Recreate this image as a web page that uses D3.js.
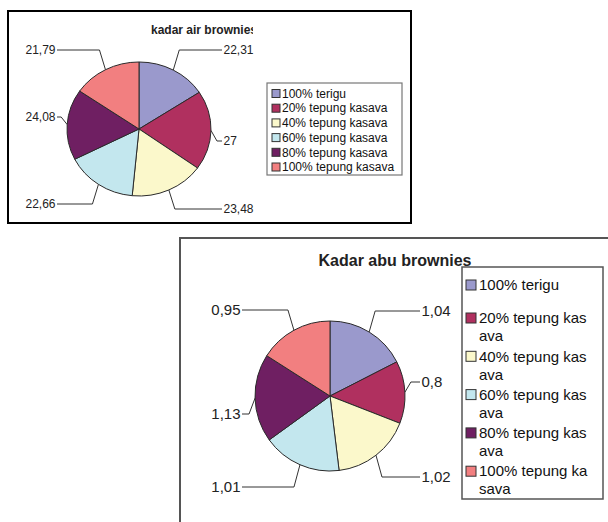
<!DOCTYPE html>
<html>
<head>
<meta charset="utf-8">
<script src="https://cdn.jsdelivr.net/npm/d3@7"></script>
<style>
  body { margin: 0; background: #fff; }
  svg { display: block; font-family: "Liberation Sans", Arial, sans-serif; }
</style>
</head>
<body>
<svg id="chart" width="608" height="522"></svg>
<script>
// data
const categories = ['100% terigu', '20% tepung kasava', '40% tepung kasava',
                    '60% tepung kasava', '80% tepung kasava', '100% tepung kasava'];
const airValues = [22.31, 27, 23.48, 22.66, 24.08, 21.79];
const abuValues = [1.04, 0.8, 1.02, 1.01, 1.13, 0.95];
// legend of second chart is wrapped like the original
const abuLegendLines = [['100% terigu'], ['20% tepung kas', 'ava'], ['40% tepung kas', 'ava'],
                        ['60% tepung kas', 'ava'], ['80% tepung kas', 'ava'], ['100% tepung ka', 'sava']];
const colors = ['#9a99cc', '#b0305f', '#fbf8cb', '#c3e7ee', '#6f1f62', '#f27f80'];

// label rows (y) for the leader lines, like a manual label placement
const airLabelY = [50, 141, 209, 204, 117, 50];
const abuLabelY = [311, 382, 477, 487, 414, 310];

const fmt = d3.formatLocale({decimal: ',', thousands: '.', grouping: [3], currency: ['', '']}).format('~g');

const svg = d3.select('#chart');
const color = d3.scaleOrdinal().domain(categories).range(colors);

function drawPie(opts) {
  let g = svg.append('g');
  let pie = d3.pie().sort(null).value(d => d);
  let arcs = pie(opts.values);
  let ky = opts.ry / opts.rx;
  let arc = d3.arc().innerRadius(0).outerRadius(opts.rx);

  g.append('g')
    .attr('transform', 'translate(' + opts.cx + ',' + opts.cy + ') scale(1,' + ky + ')')
    .selectAll('path')
    .data(arcs)
    .enter().append('path')
    .attr('d', arc)
    .attr('fill', (d, i) => color(categories[i]))
    .attr('stroke', '#2a2a2a')
    .attr('stroke-width', 1)
    .attr('vector-effect', 'non-scaling-stroke');

  // leader lines + value labels
  arcs.forEach(function(d, i) {
    let a = (d.startAngle + d.endAngle) / 2;
    let ex = opts.cx + opts.rx * Math.sin(a);
    let ey = opts.cy - opts.ry * Math.cos(a);
    let right = a < Math.PI;
    let side = right ? 1 : -1;
    let ly = opts.labelY[i];
    let lx = right ? opts.rightX : opts.leftX;
    let elbowX = ex + side * 6;
    g.append('path')
      .attr('d', d3.line()([[ex, ey], [elbowX, ly], [lx, ly]]))
      .attr('fill', 'none')
      .attr('stroke', '#333')
      .attr('stroke-width', 1);
    g.append('text')
      .attr('x', lx + side * 1.5)
      .attr('y', ly)
      .attr('dy', '0.35em')
      .attr('text-anchor', right ? 'start' : 'end')
      .attr('font-size', opts.fontSize)
      .attr('fill', '#222')
      .text(fmt(d.data));
  });
}

//
// Chart 1 - kadar air
//
svg.append('rect')
  .attr('x', 8).attr('y', 11).attr('width', 403).attr('height', 212)
  .attr('fill', '#fff').attr('stroke', '#000').attr('stroke-width', 2);

svg.append('clipPath').attr('id', 'titleClip')
  .append('rect').attr('x', 100).attr('y', 15).attr('width', 153).attr('height', 30);

svg.append('text')
  .attr('clip-path', 'url(#titleClip)')
  .attr('x', 204).attr('y', 34)
  .attr('text-anchor', 'middle')
  .attr('font-size', 12).attr('font-weight', 'bold')
  .attr('fill', '#222')
  .text('kadar air brownies');

drawPie({values: airValues, cx: 139, cy: 129, rx: 72, ry: 67,
         labelY: airLabelY, rightX: 222, leftX: 57, fontSize: 12});

let leg1 = svg.append('g');
leg1.append('rect')
  .attr('x', 267).attr('y', 83).attr('width', 135).attr('height', 92)
  .attr('fill', '#fff').attr('stroke', '#777').attr('stroke-width', 1.2);
let item1 = leg1.selectAll('g.item')
  .data(categories)
  .enter().append('g')
  .attr('class', 'item')
  .attr('transform', (d, i) => 'translate(272,' + (93.5 + i * 14.7) + ')');
item1.append('rect')
  .attr('x', 0).attr('y', -4).attr('width', 8).attr('height', 8)
  .attr('fill', d => color(d)).attr('stroke', '#333').attr('stroke-width', 1);
item1.append('text')
  .attr('x', 10).attr('dy', '0.35em')
  .attr('font-size', 12).attr('fill', '#111')
  .text(d => d);

//
// Chart 2 - kadar abu
//
svg.append('rect')
  .attr('x', 180).attr('y', 238).attr('width', 460).attr('height', 320)
  .attr('fill', '#fff').attr('stroke', '#555').attr('stroke-width', 2);

svg.append('text')
  .attr('x', 395).attr('y', 266)
  .attr('text-anchor', 'middle')
  .attr('font-size', 16).attr('font-weight', 'bold')
  .attr('fill', '#222')
  .text('Kadar abu brownies');

drawPie({values: abuValues, cx: 330, cy: 396, rx: 75, ry: 75,
         labelY: abuLabelY, rightX: 420, leftX: 242, fontSize: 15});

let leg2 = svg.append('g');
leg2.append('rect')
  .attr('x', 462).attr('y', 267).attr('width', 141).attr('height', 232)
  .attr('fill', '#fff').attr('stroke', '#555').attr('stroke-width', 1.5);
let item2 = leg2.selectAll('g.item')
  .data(abuLegendLines)
  .enter().append('g')
  .attr('class', 'item')
  .attr('transform', (d, i) => 'translate(466,' + (i === 0 ? 285 : 318 + (i - 1) * 38.3) + ')');
item2.append('rect')
  .attr('x', 0).attr('y', -5).attr('width', 10).attr('height', 10)
  .attr('fill', (d, i) => color(categories[i])).attr('stroke', '#333').attr('stroke-width', 1);
item2.selectAll('text')
  .data(d => d)
  .enter().append('text')
  .attr('x', 13)
  .attr('y', (d, j) => j * 18)
  .attr('dy', '0.35em')
  .attr('font-size', 15).attr('fill', '#111')
  .text(d => d);
</script>
</body>
</html>
